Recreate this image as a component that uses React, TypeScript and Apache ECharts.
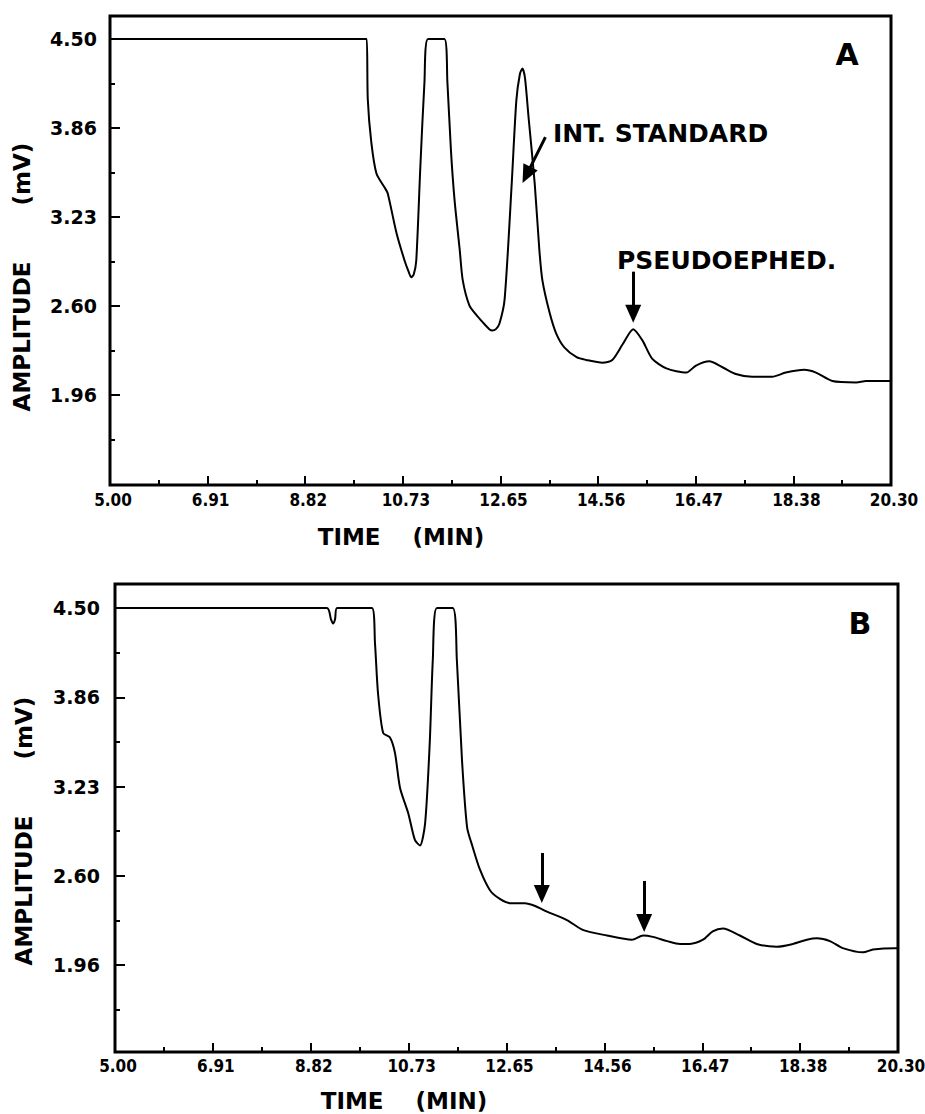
import React, { useEffect, useRef } from "react";
import * as echarts from "echarts";

// ---- Panel A chromatogram (time in min, amplitude in mV) ----
const timeA = [5.0, 9.99, 10.03, 10.05, 10.12, 10.22, 10.38, 10.44, 10.61, 10.77, 10.85, 10.9, 10.95, 11.0, 11.08, 11.16, 11.23, 11.55, 11.61, 11.68, 11.75, 11.85, 11.91, 12.04, 12.18, 12.3, 12.43, 12.49, 12.56, 12.63, 12.73, 12.87, 12.96, 13.03, 13.08, 13.13, 13.2, 13.32, 13.41, 13.47, 13.61, 13.74, 13.9, 14.14, 14.33, 14.65, 14.84, 15.04, 15.25, 15.43, 15.62, 15.9, 16.29, 16.48, 16.74, 16.99, 17.26, 17.58, 17.97, 18.24, 18.6, 18.83, 19.15, 19.62, 19.81, 20.26, 20.3];
const ampA = [4.5, 4.5, 4.5, 4.07, 3.76, 3.54, 3.44, 3.4, 3.12, 2.92, 2.84, 2.8, 2.82, 2.92, 3.59, 4.19, 4.5, 4.5, 4.19, 3.7, 3.35, 3.0, 2.78, 2.6, 2.53, 2.48, 2.43, 2.42, 2.43, 2.47, 2.64, 3.47, 4.06, 4.25, 4.29, 4.22, 3.94, 3.47, 3.0, 2.78, 2.55, 2.4, 2.3, 2.23, 2.21, 2.19, 2.21, 2.32, 2.43, 2.35, 2.22, 2.15, 2.12, 2.17, 2.2, 2.16, 2.11, 2.09, 2.09, 2.12, 2.14, 2.12, 2.06, 2.05, 2.06, 2.06, 2.06];

// ---- Panel B chromatogram ----
const timeB = [5.0, 9.14, 9.22, 9.26, 9.3, 9.34, 10.02, 10.08, 10.14, 10.24, 10.37, 10.47, 10.57, 10.73, 10.86, 10.96, 11.06, 11.15, 11.21, 11.29, 11.6, 11.68, 11.78, 11.88, 11.98, 12.13, 12.33, 12.52, 12.72, 13.01, 13.21, 13.44, 13.83, 14.14, 14.61, 15.1, 15.32, 15.51, 15.79, 16.04, 16.23, 16.49, 16.68, 16.88, 17.21, 17.54, 17.93, 18.25, 18.52, 18.72, 18.97, 19.22, 19.62, 19.81, 20.24, 20.3];
const ampB = [4.5, 4.5, 4.42, 4.39, 4.42, 4.5, 4.5, 4.25, 3.89, 3.61, 3.58, 3.47, 3.22, 3.04, 2.85, 2.81, 2.97, 3.54, 4.13, 4.5, 4.5, 4.13, 3.42, 2.94, 2.81, 2.64, 2.49, 2.43, 2.4, 2.4, 2.38, 2.34, 2.28, 2.21, 2.17, 2.14, 2.17, 2.16, 2.13, 2.11, 2.11, 2.14, 2.2, 2.22, 2.17, 2.11, 2.09, 2.11, 2.14, 2.15, 2.13, 2.08, 2.05, 2.07, 2.08, 2.08];

// ---- Axis ticks ----
const xTickValues = [5.0, 6.9125, 8.825, 10.7375, 12.65, 14.5625, 16.475, 18.3875, 20.3];
const xTickLabels = ["5.00", "6.91", "8.82", "10.73", "12.65", "14.56", "16.47", "18.38", "20.30"];
const xMinorTicks = [5.95625, 7.86875, 9.78125, 11.69375, 13.60625, 15.51875, 17.43125, 19.34375];
const yTickValues = [4.5, 3.865, 3.23, 2.595, 1.96];
const yTickLabels = ["4.50", "3.86", "3.23", "2.60", "1.96"];
const yMinorTicks = [4.1825, 3.5475, 2.9125, 2.2775, 1.6425];

// ---- Annotation arrows [fromTime, fromAmp, toTime, toAmp] ----
const arrowsA = [
  [13.53, 3.8, 13.16, 3.53],
  [15.25, 2.84, 15.25, 2.54],
];
const arrowsB = [
  [13.34, 2.757, 13.34, 2.465],
  [15.34, 2.558, 15.34, 2.259],
];

const FONT = "'DejaVu Sans', 'Liberation Sans', sans-serif";
const NARROW = "'Liberation Sans Narrow', 'DejaVu Sans Condensed', 'Liberation Sans', sans-serif";

function lookup(values: number[], labels: string[], v: number) {
  const i = values.findIndex((t) => Math.abs(t - v) < 1e-6);
  return i >= 0 ? labels[i] : "";
}

export default function App() {
  const ref = useRef<HTMLDivElement>(null);

  useEffect(() => {
    if (!ref.current) return;
    const chart = echarts.init(ref.current, undefined, { renderer: "svg" });

    const panels = [
      { grid: { left: 110, top: 16, width: 781, height: 469 }, yMin: 1.318, yMax: 4.664, t: timeA, v: ampA, arrows: arrowsA, ylabelMargin: 13, xlabelMargin: 6 },
      { grid: { left: 115, top: 584, width: 783, height: 468 }, yMin: 1.341, yMax: 4.671, t: timeB, v: ampB, arrows: arrowsB, ylabelMargin: 15, xlabelMargin: 5 },
    ];

    const grids: any[] = [];
    const xAxes: any[] = [];
    const yAxes: any[] = [];
    const series: any[] = [];

    panels.forEach((p, gi) => {
      grids.push({
        ...p.grid,
        show: true,
        borderColor: "#000",
        borderWidth: 3,
        backgroundColor: "transparent",
        containLabel: false,
        outerBoundsMode: "none",
      });
      // major x axis
      xAxes.push({
        type: "value",
        gridIndex: gi,
        position: "bottom",
        min: 5,
        max: 20.3,
        axisLine: { show: false },
        splitLine: { show: false },
        axisTick: { show: true, inside: true, length: 9, customValues: xTickValues, lineStyle: { color: "#000", width: 2 } },
        axisLabel: {
          show: true,
          customValues: xTickValues,
          margin: p.xlabelMargin,
          color: "#000",
          fontFamily: NARROW,
          fontWeight: "bold",
          fontSize: 17,
          padding: [0, 0, 0, 6],
          formatter: (val: number) => lookup(xTickValues, xTickLabels, val),
        },
      });
      // minor x axis
      xAxes.push({
        type: "value",
        gridIndex: gi,
        position: "bottom",
        min: 5,
        max: 20.3,
        axisLine: { show: false },
        splitLine: { show: false },
        axisLabel: { show: false },
        axisTick: { show: true, inside: true, length: 5, customValues: xMinorTicks, lineStyle: { color: "#000", width: 2 } },
      });
      // major y axis
      yAxes.push({
        type: "value",
        gridIndex: gi,
        position: "left",
        min: p.yMin,
        max: p.yMax,
        axisLine: { show: false },
        splitLine: { show: false },
        axisTick: { show: true, inside: true, length: 10, customValues: yTickValues, lineStyle: { color: "#000", width: 2 } },
        axisLabel: {
          show: true,
          customValues: yTickValues,
          margin: p.ylabelMargin,
          color: "#000",
          fontFamily: FONT,
          fontWeight: "bold",
          fontSize: 19,
          formatter: (val: number) => lookup(yTickValues, yTickLabels, val),
        },
      });
      // minor y axis
      yAxes.push({
        type: "value",
        gridIndex: gi,
        position: "left",
        min: p.yMin,
        max: p.yMax,
        axisLine: { show: false },
        splitLine: { show: false },
        axisLabel: { show: false },
        axisTick: { show: true, inside: true, length: 5, customValues: yMinorTicks, lineStyle: { color: "#000", width: 2 } },
      });

      series.push({
        type: "line",
        name: gi === 0 ? "A" : "B",
        xAxisIndex: gi * 2,
        yAxisIndex: gi * 2,
        data: p.t.map((t, i) => [t, p.v[i]]),
        showSymbol: false,
        symbol: "none",
        smooth: 0.25,
        lineStyle: { color: "#000", width: 2 },
        itemStyle: { color: "#000" },
        emphasis: { disabled: true },
        markLine: {
          silent: true,
          symbol: ["none", "triangle"],
          symbolSize: [16, 18],
          label: { show: false },
          lineStyle: { color: "#000", width: 3, type: "solid" },
          itemStyle: { color: "#000" },
          emphasis: { disabled: true },
          data: p.arrows.map((a) => [{ coord: [a[0], a[1]] }, { coord: [a[2], a[3]] }]),
        },
      });
    });

    const txt = (text: string, x: number, y: number, size: number, align = "left", rotation = 0) => ({
      type: "text",
      x,
      y,
      rotation,
      style: {
        text,
        fill: "#000",
        fontFamily: FONT,
        fontWeight: "bold",
        fontSize: size,
        align,
        verticalAlign: "middle",
      },
    });

    const graphic = [
      txt("A", 847, 54, 30, "center"),
      txt("B", 860, 623, 30, "center"),
      txt("INT. STANDARD", 553, 133, 25, "left"),
      txt("PSEUDOEPHED.", 617, 260, 25, "left"),
      txt("TIME    (MIN)", 401, 537, 23, "center"),
      txt("TIME    (MIN)", 404, 1101, 23, "center"),
      txt("AMPLITUDE       (mV)", 22, 277, 23, "center", Math.PI / 2),
      txt("AMPLITUDE       (mV)", 24, 831, 23, "center", Math.PI / 2),
    ];

    chart.setOption({
      animation: false,
      backgroundColor: "#fff",
      grid: grids,
      xAxis: xAxes,
      yAxis: yAxes,
      series,
      graphic,
    });

    return () => chart.dispose();
  }, []);

  return <div ref={ref} style={{ position: "absolute", left: 0, top: 0, width: 925, height: 1114 }} />;
}
